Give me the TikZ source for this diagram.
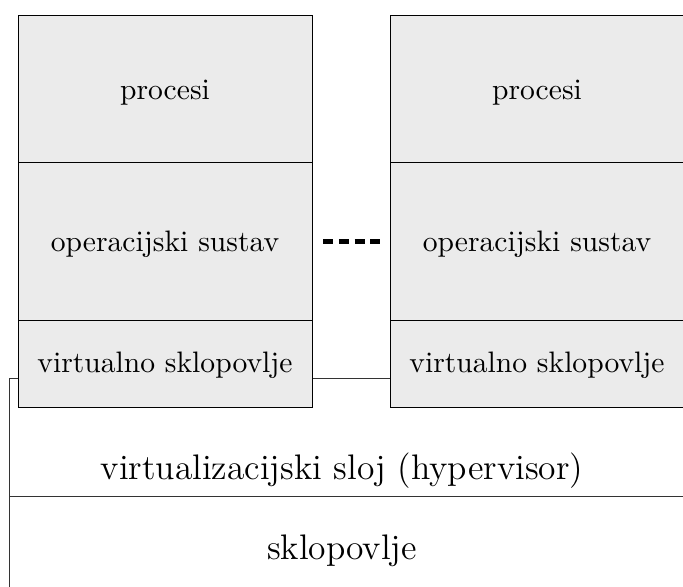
\documentclass[tikz,border=0pt]{standalone}
\definecolor{boxgray}{RGB}{235,235,235}
\newcommand{\upx}{0.338pt}
\begin{document}
\begin{tikzpicture}[x=0.338pt,y=-0.338pt,
  stackbox/.style={draw=black, line width=0.4pt, fill=boxgray, inner sep=0pt,
    anchor=north west, minimum width=294*\upx},
  layerbox/.style={draw=black!80, line width=0.5pt, inner sep=0pt,
    anchor=north west, minimum width=760*\upx},
  small/.style={anchor=base, inner sep=0pt, font=\normalsize},
  big/.style={anchor=base, inner sep=0pt, font=\large},
  gap/.style={line width=1.5pt, dash pattern=on 10*\upx off 5.7*\upx}]
\useasboundingbox (0,0) rectangle (683,587);
\begin{scope}
\clip (0,0) rectangle (683,587);
% layers
\node[layerbox, minimum height=118*\upx] (hv) at (9,378) {};
\node[layerbox, minimum height=140*\upx] (hw) at (9,496) {};
% left stack
\node[stackbox, minimum height=147*\upx] (p1) at (18,15) {};
\node[stackbox, minimum height=158*\upx] (o1) at (18,162) {};
\node[stackbox, minimum height=87*\upx] (v1) at (18,320) {};
% right stack
\node[stackbox, minimum height=147*\upx] (p2) at (390,15) {};
\node[stackbox, minimum height=158*\upx] (o2) at (390,162) {};
\node[stackbox, minimum height=87*\upx] (v2) at (390,320) {};
% texts
\node[small] (tp1) at (165,100) {procesi};
\node[small] (to1) at (165,251.7) {operacijski sustav};
\node[small] (tv1) at (165,373) {virtualno sklopovlje};
\node[small] (tp2) at (537,100) {procesi};
\node[small] (to2) at (537,251.7) {operacijski sustav};
\node[small] (tv2) at (537,373) {virtualno sklopovlje};
\node[big] (thv) at (342,480) {virtualizacijski sloj (hypervisor)};
\node[big] (thw) at (342,560) {sklopovlje};
% dashes between the stacks
\draw[gap] ([xshift=10*\upx]o1.east) -- ([xshift=-10*\upx]o2.west);
\end{scope}
\end{tikzpicture}
\end{document}
